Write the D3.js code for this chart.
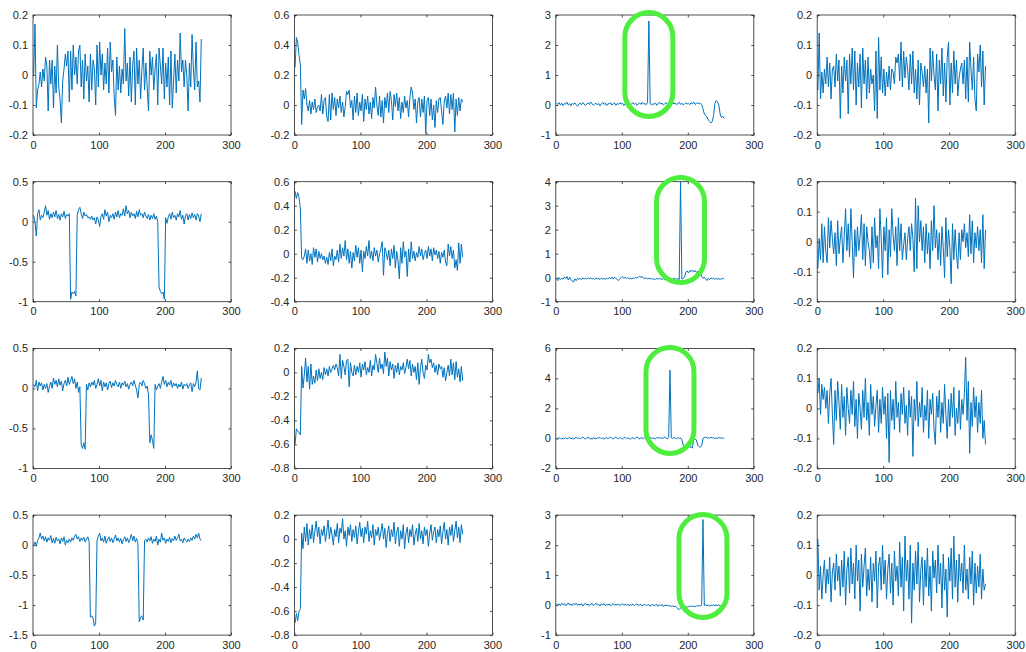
<!DOCTYPE html>
<html>
<head>
<meta charset="utf-8">
<script src="https://cdn.jsdelivr.net/npm/d3@7"></script>
<style>
  html, body { margin: 0; padding: 0; background: #fff; }
  svg { display: block; }
</style>
</head>
<body>
<script>
// Sample index of each value: 1, 3, 5, ... 255
const xTickLabels = ["0", "100", "200", "300"];

// Row 1
const sig_r1c1 = [
  0.0,0.17,-0.11,-0.05,-0.03,0.01,-0.04,0.02,-0.02,0.06,0.03,-0.12,0.05,-0.03,0.05,-0.11,
  0.03,-0.06,0.1,-0.04,-0.08,-0.16,-0.02,0.02,0.07,0.03,0.08,-0.09,0.08,-0.05,0.1,0.0,
  0.06,-0.03,0.08,0.1,-0.04,0.05,-0.08,0.07,-0.02,0.03,-0.09,0.07,-0.05,0.05,0.02,-0.1,
  0.1,-0.04,0.11,0.0,0.07,-0.05,0.04,-0.03,0.09,-0.06,0.11,0.01,0.05,-0.07,-0.135,0.06,
  -0.05,0.03,-0.06,0.02,-0.03,0.155,-0.02,0.04,-0.07,0.06,-0.09,0.03,0.08,-0.1,0.09,-0.03,
  0.05,-0.08,0.02,0.09,-0.05,0.04,-0.04,-0.12,0.08,0.0,0.06,-0.05,0.02,0.07,-0.1,0.09,
  0.03,-0.03,0.09,-0.08,0.04,-0.04,0.06,-0.1,0.08,-0.11,-0.02,0.07,-0.06,0.05,-0.02,0.14,
  0.01,0.05,-0.04,0.05,0.0,-0.12,0.04,-0.04,0.135,0.02,-0.05,0.11,-0.04,-0.02,-0.09,0.12
];
const sig_r1c2 = [
  0.25,0.45,0.42,0.33,0.27,-0.13,0.1,0.04,0.11,0.0,-0.04,0.03,-0.06,0.02,-0.03,0.04,
  -0.05,-0.01,0.0,-0.04,0.07,-0.06,0.03,0.05,-0.08,-0.11,0.07,-0.1,0.08,-0.03,0.05,-0.07,
  0.04,-0.02,0.06,-0.05,0.02,-0.08,-0.01,0.09,0.07,0.1,-0.02,0.03,-0.1,0.06,-0.05,0.08,
  -0.07,0.02,-0.04,0.07,-0.11,0.04,-0.03,0.06,-0.06,0.02,-0.09,0.05,-0.02,0.12,0.0,-0.07,
  0.06,-0.08,0.03,-0.12,0.05,-0.02,0.08,-0.05,0.09,0.03,-0.1,0.07,-0.01,0.08,-0.04,0.05,
  -0.09,0.02,-0.05,0.06,-0.02,0.03,-0.08,0.05,0.12,0.08,-0.03,0.04,-0.12,0.02,0.05,-0.08,
  0.04,-0.05,0.06,-0.19,0.03,0.05,-0.07,0.04,-0.1,0.0,-0.15,0.03,-0.05,0.04,0.05,-0.04,
  -0.13,0.02,0.06,-0.02,0.08,-0.06,0.07,-0.03,0.08,-0.18,0.04,-0.07,0.05,-0.04,0.04,0.02
];
const sig_r1c3 = [
  0.05,0.02,0.08,0.0,0.06,-0.02,0.05,0.03,0.09,0.0,0.04,-0.03,0.06,0.02,0.07,0.0,
  -0.04,0.03,0.06,0.01,0.08,0.03,-0.02,0.04,0.07,0.02,0.1,0.04,-0.01,0.03,0.06,0.0,
  0.05,-0.03,0.04,0.09,0.02,0.06,-0.02,0.05,0.03,0.08,0.0,0.04,0.07,-0.01,0.05,0.02,
  0.08,0.03,0.06,-0.02,0.04,0.1,0.03,0.06,0.0,0.05,0.08,0.02,0.06,-0.01,0.04,0.07,
  0.02,0.09,0.03,0.05,0.01,0.08,2.8,0.06,0.0,0.04,0.02,0.07,-0.01,0.05,0.09,0.03,
  0.06,0.0,0.04,0.08,0.02,0.06,-0.02,0.05,0.1,0.03,0.07,0.01,0.05,0.09,0.02,0.06,
  0.0,0.04,0.08,0.03,0.06,0.01,0.07,0.04,0.1,0.02,0.05,0.08,0.03,0.06,0.02,-0.12,
  -0.3,-0.35,-0.4,-0.5,-0.55,-0.6,-0.55,-0.35,0.05,0.15,0.1,0.0,-0.3,-0.42,-0.38,-0.45
];
const sig_r1c4 = [
  -0.05,0.14,-0.08,0.01,-0.06,0.02,-0.03,0.06,-0.04,0.04,-0.08,0.02,0.03,-0.04,0.07,-0.02,
  0.05,-0.145,0.03,-0.06,0.06,-0.02,0.05,-0.13,0.07,-0.03,0.09,-0.05,0.08,-0.1,0.04,-0.04,
  0.07,-0.11,0.09,-0.03,0.05,-0.08,0.06,-0.06,0.02,-0.03,0.0,-0.12,0.08,-0.145,0.125,-0.05,
  0.06,-0.06,0.02,-0.07,0.01,-0.04,0.03,-0.05,0.02,0.01,-0.03,0.06,0.04,0.07,-0.02,0.11,
  -0.04,0.08,-0.01,0.06,0.02,-0.05,0.07,-0.03,0.08,-0.06,0.02,-0.08,0.05,-0.1,0.04,0.01,
  -0.04,0.03,-0.06,0.02,-0.16,0.09,-0.02,0.08,0.0,-0.05,0.07,-0.12,0.05,-0.03,0.09,-0.07,
  0.04,-0.09,0.06,0.11,-0.1,0.04,-0.06,0.08,-0.03,0.05,-0.07,-0.01,0.02,0.04,-0.03,0.05,
  -0.08,0.06,-0.09,0.11,0.02,-0.05,0.06,-0.08,-0.12,0.07,0.01,0.1,-0.04,0.08,-0.1,0.03
];

// Row 2
const sig_r2c1 = [
  0.08,0.0,-0.18,0.1,0.15,0.02,0.08,0.05,0.12,0.2,0.08,0.14,0.03,0.1,0.05,0.12,
  0.06,0.14,0.04,0.09,0.02,0.1,0.06,0.13,0.04,0.09,0.07,0.1,-0.97,-0.88,-0.9,-0.87,
  -0.93,0.08,0.15,0.18,0.1,0.04,0.12,0.07,0.09,0.05,0.06,0.03,0.07,0.02,0.05,-0.03,
  0.06,0.02,-0.06,0.07,0.1,0.03,0.15,0.07,0.12,0.0,0.08,0.05,0.1,0.03,0.12,0.06,
  0.14,0.05,0.1,0.08,0.16,0.07,0.2,0.1,0.14,0.05,0.12,0.07,0.1,0.04,0.13,0.06,
  0.15,0.08,0.1,0.05,0.12,0.07,0.04,0.09,0.02,0.08,0.04,0.1,0.03,0.07,0.0,-0.82,
  -0.87,-0.9,-0.88,-0.97,0.05,-0.02,0.06,0.1,0.03,0.12,0.05,0.08,0.02,0.1,0.06,0.14,
  0.03,0.08,-0.03,0.07,0.1,0.02,0.09,0.04,0.11,0.05,0.09,0.02,0.1,0.07,0.0,0.1
];
const sig_r2c2 = [
  0.52,0.46,0.51,0.47,0.38,-0.04,-0.05,-0.02,0.04,-0.08,0.03,-0.06,0.0,-0.09,0.05,-0.03,
  0.04,-0.07,0.02,-0.04,0.0,-0.05,-0.02,-0.08,-0.03,-0.09,0.01,-0.06,0.04,-0.1,-0.02,-0.05,
  0.03,-0.07,0.08,-0.04,0.05,-0.02,0.11,-0.05,0.04,-0.08,0.02,-0.12,0.01,-0.06,0.07,-0.03,
  0.05,-0.08,0.03,-0.15,0.02,-0.04,0.06,-0.02,0.11,-0.04,0.02,-0.06,0.05,-0.02,0.03,-0.07,
  0.0,0.04,0.1,-0.18,0.05,0.01,-0.05,0.03,-0.1,0.04,-0.04,0.07,-0.12,0.02,-0.06,-0.21,
  0.05,-0.08,0.1,-0.03,0.02,-0.19,0.04,-0.07,0.1,-0.04,0.02,-0.06,0.01,-0.03,0.06,-0.02,
  0.04,-0.05,0.0,0.03,-0.04,0.06,-0.02,0.04,-0.06,0.05,-0.01,0.03,-0.04,0.02,-0.08,0.01,
  -0.03,0.03,-0.07,-0.1,0.08,-0.02,0.06,-0.04,0.03,-0.12,-0.05,-0.14,0.09,-0.08,0.08,-0.03
];
const sig_r2c3 = [
  -0.05,-0.12,0.0,-0.08,-0.02,-0.06,0.03,-0.04,0.05,-0.1,0.02,-0.08,-0.15,-0.18,-0.05,-0.12,
  -0.02,-0.07,-0.03,-0.08,-0.01,-0.05,-0.02,-0.06,0.0,-0.04,-0.01,-0.05,-0.03,-0.07,-0.02,-0.05,
  -0.03,-0.08,-0.02,-0.06,-0.03,-0.07,-0.02,-0.05,0.0,-0.04,0.03,-0.06,0.02,-0.03,-0.07,-0.12,
  -0.05,0.0,0.05,-0.03,0.02,-0.04,0.01,-0.05,-0.02,-0.06,0.0,-0.04,0.02,-0.03,0.03,0.06,
  0.02,0.05,-0.02,-0.04,0.0,-0.05,-0.02,-0.06,-0.03,-0.07,-0.04,-0.08,-0.03,-0.06,-0.02,-0.05,
  -0.07,-0.04,-0.08,-0.03,-0.06,-0.02,-0.05,-0.04,-0.07,-0.03,-0.05,-0.06,-0.04,-0.08,4.0,-0.05,
  -0.03,0.02,0.22,0.28,0.2,0.3,0.25,0.32,0.24,0.3,0.22,0.28,0.2,0.25,0.05,-0.02,
  0.02,-0.05,-0.12,-0.03,-0.08,0.0,-0.05,-0.02,-0.07,-0.03,-0.06,-0.04,-0.08,-0.03,-0.05,-0.04
];
const sig_r2c4 = [
  -0.09,0.01,-0.06,0.06,-0.07,0.05,-0.03,-0.07,0.08,-0.02,0.07,0.01,-0.04,0.03,-0.08,0.07,
  -0.04,0.01,0.05,-0.07,0.02,0.11,-0.03,0.06,-0.05,0.11,0.0,-0.12,0.04,-0.05,0.05,-0.03,
  0.02,0.09,-0.06,0.06,-0.08,0.05,0.0,-0.03,-0.09,0.05,-0.07,0.08,-0.02,0.02,-0.09,0.11,
  0.01,-0.12,0.05,-0.03,0.08,-0.11,0.04,-0.05,0.11,0.02,-0.03,0.05,-0.08,0.08,-0.03,0.06,
  -0.06,-0.01,0.03,-0.06,0.01,0.05,-0.03,0.06,0.01,-0.1,0.145,-0.09,0.12,0.0,0.07,-0.03,
  0.05,-0.07,0.06,-0.04,0.03,-0.09,0.07,-0.03,0.12,-0.02,0.04,-0.06,0.03,-0.08,0.05,-0.02,
  -0.12,0.08,-0.05,0.04,-0.02,-0.14,0.06,-0.06,0.04,-0.04,-0.09,0.03,-0.06,0.04,0.0,0.06,
  -0.02,0.03,-0.05,0.09,-0.04,0.07,-0.07,0.03,-0.02,0.05,-0.03,0.04,-0.07,0.09,-0.09,0.04
];

// Row 3
const sig_r3c1 = [
  0.05,0.02,0.1,-0.03,0.08,0.03,0.07,-0.02,0.05,0.0,0.06,-0.05,0.03,0.08,0.0,0.13,
  0.05,0.1,0.02,0.12,0.04,0.09,-0.03,0.06,0.1,0.03,0.14,0.05,0.1,0.15,0.06,0.12,
  0.0,0.08,-0.05,0.02,-0.7,-0.75,-0.68,-0.76,0.05,-0.02,0.07,0.02,0.08,0.04,0.1,0.0,
  0.05,0.12,0.03,0.1,-0.03,0.08,0.02,0.07,-0.02,0.06,0.09,0.01,0.07,0.03,0.1,0.05,
  0.02,0.08,0.0,0.07,0.04,0.09,0.02,0.06,-0.01,0.05,0.08,0.03,0.1,0.04,-0.02,-0.12,
  0.05,0.08,0.03,0.1,0.06,0.0,0.03,-0.08,-0.68,-0.58,-0.65,-0.75,0.05,-0.02,0.03,0.06,
  0.0,0.08,0.15,0.05,0.1,0.02,0.08,0.04,0.1,0.01,0.07,0.03,0.06,0.0,0.05,0.02,
  0.08,-0.01,0.05,0.03,0.06,0.0,0.04,0.07,-0.04,0.06,0.02,0.08,0.22,0.0,-0.02,0.13
];
const sig_r3c2 = [
  -0.6,-0.47,-0.49,-0.5,-0.52,0.05,-0.13,-0.02,0.12,-0.08,0.05,-0.14,0.07,-0.1,-0.03,-0.09,
  0.02,-0.07,0.03,-0.05,0.0,-0.06,0.04,-0.02,0.03,-0.03,0.05,0.0,0.03,0.06,0.02,0.07,
  0.04,-0.03,0.15,-0.05,0.1,0.05,-0.02,0.1,0.11,-0.12,0.08,0.0,-0.03,0.06,-0.02,0.05,
  0.0,0.08,-0.04,0.07,0.02,0.09,-0.02,0.04,0.0,0.1,-0.03,0.06,0.02,0.15,0.08,0.0,
  0.12,0.03,0.07,-0.01,0.17,0.05,0.12,-0.03,0.09,0.02,0.07,-0.05,0.06,0.0,0.08,-0.02,
  0.05,0.02,0.08,-0.01,0.04,0.11,0.03,0.1,-0.03,0.07,0.0,0.05,-0.06,0.08,-0.1,0.04,
  0.11,0.0,-0.05,0.06,0.02,0.15,0.08,0.11,0.04,0.08,0.0,0.06,-0.02,0.07,0.03,0.05,
  -0.04,0.04,-0.07,0.0,0.06,-0.03,0.11,-0.02,0.08,-0.06,0.09,-0.04,0.03,-0.08,0.05,-0.07
];
const sig_r3c3 = [
  0.02,-0.03,0.05,0.0,-0.05,0.03,-0.02,0.06,-0.04,0.01,0.07,-0.03,0.04,-0.06,0.02,0.08,
  -0.02,0.05,-0.04,0.03,0.1,0.0,-0.05,0.04,0.08,-0.03,0.02,-0.06,0.05,0.0,-0.03,0.04,
  0.01,0.07,-0.02,0.03,-0.05,0.02,0.06,-0.01,0.04,0.1,0.0,-0.04,0.05,0.08,0.02,-0.03,
  0.06,0.01,-0.05,0.03,0.07,-0.02,0.04,0.0,-0.06,0.02,0.05,-0.03,0.03,0.1,0.0,-0.04,
  0.05,0.02,-0.02,0.06,0.0,-0.05,0.03,0.08,-0.02,0.04,0.0,-0.03,0.05,0.02,0.08,-0.01,
  0.04,0.0,0.1,0.02,-0.03,0.05,4.55,0.04,0.0,0.06,0.02,-0.03,0.05,0.0,0.03,-0.1,
  -0.45,-0.5,-0.48,-0.52,-0.5,-0.6,-0.55,-0.65,0.0,-0.05,-0.1,-0.45,-0.55,-0.58,-0.5,0.0,
  0.05,0.1,0.02,0.06,0.0,0.08,0.03,0.05,-0.02,0.04,0.0,0.06,0.02,0.05,0.0,0.03
];
const sig_r3c4 = [
  0.05,0.1,-0.02,0.08,0.03,0.07,0.0,0.06,-0.05,0.05,0.1,-0.02,-0.12,0.06,-0.04,0.09,
  0.02,-0.07,0.08,-0.03,0.04,-0.09,0.07,0.0,-0.05,0.06,-0.02,0.09,-0.06,0.03,-0.1,0.05,
  0.0,-0.07,0.06,-0.03,0.1,-0.04,0.02,-0.09,0.08,-0.02,0.04,-0.06,0.01,0.06,-0.08,0.03,
  -0.05,0.07,-0.02,0.04,-0.1,0.05,-0.18,0.06,-0.04,0.03,-0.07,0.09,-0.03,0.02,-0.08,0.05,
  -0.02,0.07,-0.05,0.01,-0.09,0.06,-0.03,0.04,-0.16,0.03,-0.04,0.09,-0.06,0.02,-0.03,0.07,
  -0.08,0.01,-0.04,0.06,-0.1,0.03,-0.02,0.05,-0.07,-0.12,0.04,-0.03,0.06,-0.08,0.02,-0.05,
  0.08,-0.02,-0.1,0.03,-0.06,0.05,-0.03,0.07,-0.09,0.0,-0.05,0.06,-0.07,0.03,-0.02,0.05,
  0.17,-0.04,0.09,-0.15,0.02,-0.06,0.07,-0.03,0.04,-0.08,0.02,-0.05,0.06,-0.1,-0.04,-0.12
];

// Row 4
const sig_r4c1 = [
  0.0,0.05,-0.02,0.08,0.12,0.2,0.1,0.15,0.07,0.14,0.05,0.12,0.08,0.16,0.04,0.11,
  0.03,0.13,0.07,0.1,0.02,0.12,0.06,0.14,0.0,0.08,0.04,0.1,0.05,0.12,0.08,0.15,
  0.18,0.1,0.14,0.06,0.12,0.08,0.13,0.05,0.1,0.14,0.06,-1.2,-1.18,-1.22,-1.35,-1.3,
  0.08,0.15,0.2,0.07,0.12,0.05,0.15,0.03,0.1,0.14,0.06,0.12,0.04,0.1,0.17,0.07,
  0.12,0.05,0.11,0.02,0.09,0.14,0.06,0.12,0.04,0.1,0.18,0.07,0.15,0.05,0.11,0.02,
  -1.28,-1.2,-1.18,-1.25,0.08,0.1,0.05,0.12,0.07,0.14,0.03,0.1,0.06,0.15,0.0,0.1,
  0.05,0.2,0.08,0.12,0.03,0.1,0.06,0.13,0.04,0.11,0.07,0.15,0.08,0.12,0.18,0.07,
  0.1,0.04,0.12,0.08,0.05,0.1,0.06,0.12,0.08,0.15,0.1,0.18,0.12,0.2,0.1,0.07
];
const sig_r4c2 = [
  -0.7,-0.62,-0.68,-0.6,-0.58,0.05,-0.08,0.1,-0.02,0.13,-0.05,0.08,0.0,0.12,-0.03,0.07,
  0.15,0.02,0.1,-0.04,0.08,0.03,0.11,-0.02,0.06,0.16,0.0,0.1,0.04,-0.05,0.08,0.02,
  0.13,-0.03,0.09,0.05,0.17,0.0,0.07,-0.06,0.1,0.03,0.12,-0.02,0.08,0.01,0.11,-0.04,
  0.06,0.14,0.02,0.09,-0.03,0.1,0.04,0.15,-0.02,0.07,0.01,0.12,-0.05,0.08,0.03,0.1,
  -0.01,0.06,0.13,0.0,0.09,-0.07,0.05,0.11,-0.02,0.08,0.02,0.14,-0.04,0.06,0.1,-0.06,
  0.07,0.0,0.12,-0.08,0.05,0.1,-0.03,0.08,0.02,0.12,-0.05,0.04,0.09,-0.02,0.13,0.0,
  0.07,-0.04,0.1,0.03,0.08,-0.06,0.05,0.12,-0.01,0.06,0.1,-0.03,0.08,0.02,0.11,-0.04,
  0.06,0.14,0.0,0.08,-0.05,0.1,0.03,0.12,-0.02,0.07,0.15,0.01,0.1,-0.03,0.12,0.04
];
const sig_r4c3 = [
  0.05,0.0,0.04,-0.02,0.06,0.01,0.05,-0.03,0.03,0.07,0.0,0.04,-0.02,0.05,0.02,0.06,
  -0.01,0.04,0.0,0.05,-0.03,0.03,0.06,0.0,0.04,-0.02,0.03,0.05,-0.01,0.02,0.06,0.0,
  0.03,-0.03,0.04,0.01,0.05,-0.02,0.03,0.0,0.04,-0.03,0.02,0.05,-0.01,0.03,0.0,0.04,
  -0.02,0.02,0.05,-0.01,0.03,0.0,0.04,-0.03,0.02,0.0,0.03,-0.02,0.02,0.04,-0.01,0.01,
  0.03,-0.03,0.01,0.03,-0.02,0.0,0.02,-0.04,0.01,0.03,-0.03,0.0,0.02,-0.04,0.01,-0.02,
  0.02,-0.05,0.0,-0.02,0.01,-0.04,-0.01,-0.05,-0.02,-0.06,-0.03,-0.08,-0.12,-0.15,-0.1,-0.04,
  -0.08,-0.12,-0.05,-0.08,-0.03,-0.06,-0.02,-0.05,-0.03,-0.06,-0.02,-0.04,-0.01,-0.03,0.0,2.85,
  -0.02,0.02,-0.03,0.01,-0.04,0.0,-0.02,0.02,-0.03,0.0,-0.02,0.01,-0.03,0.0,-0.02,0.01
];
const sig_r4c4 = [
  0.12,-0.05,0.03,-0.08,0.0,0.05,-0.06,0.02,-0.03,0.06,-0.09,0.01,0.04,-0.05,0.07,-0.02,
  0.03,-0.07,0.05,-0.04,0.08,-0.1,0.02,0.06,-0.06,0.09,-0.03,0.04,-0.08,0.1,-0.02,0.05,
  -0.12,0.07,-0.04,0.03,0.09,-0.07,0.02,-0.05,0.06,-0.09,0.04,-0.02,0.08,-0.11,0.03,0.06,
  -0.05,0.1,-0.03,0.05,-0.08,0.02,0.07,-0.06,0.04,-0.1,0.08,-0.02,0.03,-0.07,0.11,-0.04,
  0.06,-0.12,0.13,-0.02,0.05,-0.08,0.1,-0.16,0.04,-0.05,0.08,-0.03,0.11,-0.09,0.02,0.06,
  -0.1,0.05,-0.04,0.09,-0.07,0.03,-0.12,0.08,-0.01,0.05,-0.06,0.1,-0.03,0.04,-0.11,0.07,
  -0.05,0.02,-0.14,0.06,-0.02,0.09,-0.08,0.13,-0.04,0.05,-0.09,0.07,-0.02,0.04,-0.06,0.1,
  -0.05,0.02,-0.08,0.06,-0.03,0.08,-0.1,0.04,-0.06,0.03,-0.04,0.07,-0.08,0.02,-0.05,-0.03
];

// Y tick labels for each panel (first and last give the axis limits)
const yt_r1c1 = ["-0.2", "-0.1", "0", "0.1", "0.2"];
const yt_r1c2 = ["-0.2", "0", "0.2", "0.4", "0.6"];
const yt_r1c3 = ["-1", "0", "1", "2", "3"];
const yt_r1c4 = ["-0.2", "-0.1", "0", "0.1", "0.2"];
const yt_r2c1 = ["-1", "-0.5", "0", "0.5"];
const yt_r2c2 = ["-0.4", "-0.2", "0", "0.2", "0.4", "0.6"];
const yt_r2c3 = ["-1", "0", "1", "2", "3", "4"];
const yt_r2c4 = ["-0.2", "-0.1", "0", "0.1", "0.2"];
const yt_r3c1 = ["-1", "-0.5", "0", "0.5"];
const yt_r3c2 = ["-0.8", "-0.6", "-0.4", "-0.2", "0", "0.2"];
const yt_r3c3 = ["-2", "0", "2", "4", "6"];
const yt_r3c4 = ["-0.2", "-0.1", "0", "0.1", "0.2"];
const yt_r4c1 = ["-1.5", "-1", "-0.5", "0", "0.5"];
const yt_r4c2 = ["-0.8", "-0.6", "-0.4", "-0.2", "0", "0.2"];
const yt_r4c3 = ["-1", "0", "1", "2", "3"];
const yt_r4c4 = ["-0.2", "-0.1", "0", "0.1", "0.2"];

// Highlighted spikes: panel index, sample x, vertical extent in data units
const highlightPanel = [2, 6, 10, 14];
const highlightX = [141, 189, 173, 223];
const highlightTop = [3.08, 4.18, 6.06, 3.02];
const highlightBottom = [-0.38, -0.2, -1.0, -0.41];

const signals = [
  sig_r1c1, sig_r1c2, sig_r1c3, sig_r1c4,
  sig_r2c1, sig_r2c2, sig_r2c3, sig_r2c4,
  sig_r3c1, sig_r3c2, sig_r3c3, sig_r3c4,
  sig_r4c1, sig_r4c2, sig_r4c3, sig_r4c4
];
const yTickSets = [
  yt_r1c1, yt_r1c2, yt_r1c3, yt_r1c4,
  yt_r2c1, yt_r2c2, yt_r2c3, yt_r2c4,
  yt_r3c1, yt_r3c2, yt_r3c3, yt_r3c4,
  yt_r4c1, yt_r4c2, yt_r4c3, yt_r4c4
];

// ---- layout ----
const W = 1026, H = 652;
const plotW = 198, plotH = 120;
const colX = c => 33 + 261.4 * c;
const rowY = r => 15 + 166.7 * r;
const lineColor = "#0072bd";
const axisColor = "#262626";
const font = "'Liberation Sans', Arial, sans-serif";

const svg = d3.select("body").append("svg")
  .attr("width", W).attr("height", H);
svg.append("rect").attr("width", W).attr("height", H).attr("fill", "#fff");

const scales = [];

signals.forEach((values, k) => {
  const r = Math.floor(k / 4), c = k % 4;
  const ticks = yTickSets[k].map(Number);
  const x = d3.scaleLinear().domain([0, 300]).range([0, plotW]);
  const y = d3.scaleLinear().domain([ticks[0], ticks[ticks.length - 1]]).range([plotH, 0]);
  scales.push({ x, y, left: colX(c), top: rowY(r) });

  const g = svg.append("g").attr("transform", `translate(${colX(c)},${rowY(r)})`);

  const line = d3.line()
    .x((d, i) => x(1 + 2 * i))
    .y(d => y(d));
  g.append("path")
    .datum(values)
    .attr("d", line)
    .attr("fill", "none")
    .attr("stroke", lineColor)
    .attr("stroke-width", 1)
    .attr("stroke-linejoin", "round");

  const xt = xTickLabels.map(Number);
  const styleAxis = sel => {
    sel.select(".domain").remove();
    sel.selectAll(".tick line").attr("stroke", axisColor).attr("stroke-width", 0.8);
    sel.selectAll(".tick text")
      .attr("fill", axisColor)
      .style("font-family", font)
      .style("font-size", "11px");
  };

  g.append("g").attr("transform", `translate(0,${plotH})`)
    .call(d3.axisBottom(x).tickValues(xt).tickFormat((d, i) => xTickLabels[i]).tickSize(-2.5).tickPadding(6))
    .call(styleAxis);
  g.append("g")
    .call(d3.axisTop(x).tickValues(xt).tickFormat("").tickSize(-2.5))
    .call(styleAxis);
  g.append("g")
    .call(d3.axisLeft(y).tickValues(ticks).tickFormat((d, i) => yTickSets[k][i]).tickSize(-2.5).tickPadding(5))
    .call(styleAxis);
  g.append("g").attr("transform", `translate(${plotW},0)`)
    .call(d3.axisRight(y).tickValues(ticks).tickFormat("").tickSize(-2.5))
    .call(styleAxis);

  g.append("rect")
    .attr("x", 0).attr("y", 0)
    .attr("width", plotW).attr("height", plotH)
    .attr("fill", "none")
    .attr("stroke", axisColor)
    .attr("stroke-width", 0.8);
});

// Green rounded outlines around the spikes
const ringW = 48;
highlightPanel.forEach((p, i) => {
  const s = scales[p];
  const cx = s.left + s.x(highlightX[i]);
  const y0 = s.top + s.y(highlightTop[i]);
  const y1 = s.top + s.y(highlightBottom[i]);
  svg.append("rect")
    .attr("x", cx - ringW / 2)
    .attr("y", y0)
    .attr("width", ringW)
    .attr("height", y1 - y0)
    .attr("rx", ringW / 2)
    .attr("ry", ringW / 2)
    .attr("fill", "none")
    .attr("stroke", "#4eee3e")
    .attr("stroke-width", 5);
});
</script>
</body>
</html>
